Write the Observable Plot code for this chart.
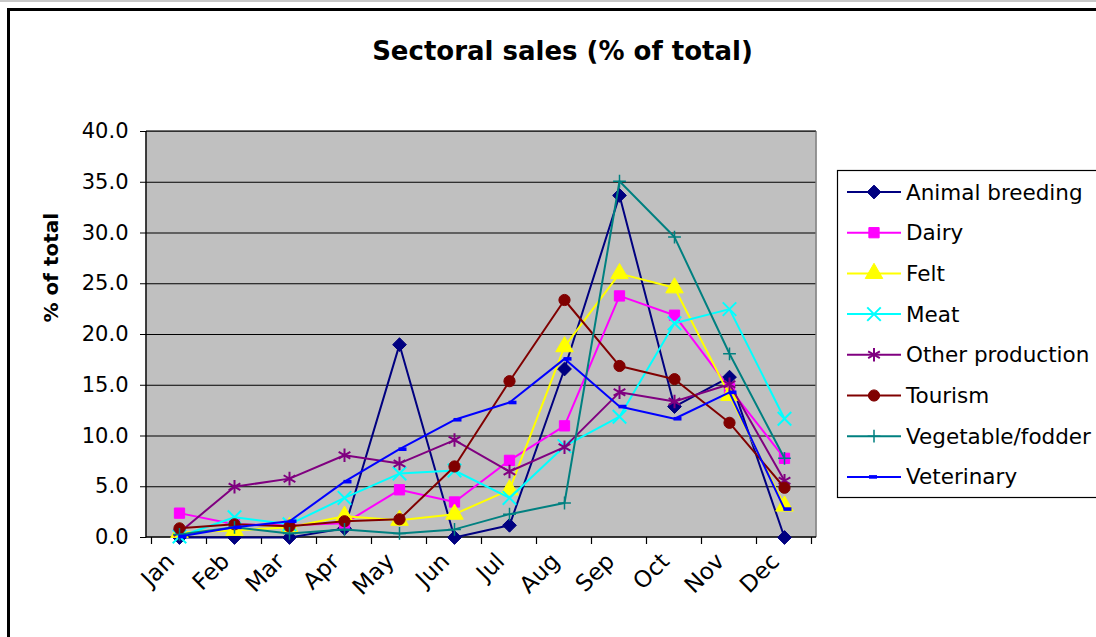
<!DOCTYPE html>
<html><head><meta charset="utf-8">
<script src="https://cdn.jsdelivr.net/npm/d3@7"></script>
<script src="https://cdn.jsdelivr.net/npm/@observablehq/plot@0.6"></script>
<style>
html,body{margin:0;padding:0;background:#fff;}
#wrap{position:relative;width:1096px;height:637px;overflow:hidden;font-family:"DejaVu Sans";}
#topline{position:absolute;left:0;top:0;width:1096px;height:2px;background:#c8c8c8;}
#border{position:absolute;left:7px;top:8px;width:1200px;height:700px;border:3px solid #000;box-sizing:border-box;}
#chart{position:absolute;left:0;top:0;}
#legend{position:absolute;left:0;top:0;}
</style></head>
<body><div id="wrap"><div id="topline"></div><div id="border"></div><div id="chart"></div><svg id="legend" width="1096" height="637"></svg></div>
<script>
// ---- data ----
const months = ["Jan","Feb","Mar","Apr","May","Jun","Jul","Aug","Sep","Oct","Nov","Dec"];
const seriesNames = ["Animal breeding","Dairy","Felt","Meat","Other production","Tourism","Vegetable/fodder","Veterinary"];
const animalBreeding  = [0.0, 0.0, 0.0, 0.9, 19.0, 0.0, 1.2, 16.6, 33.7, 12.9, 15.8, 0.0];
const dairy           = [2.4, 1.3, 1.2, 1.4, 4.7, 3.5, 7.6, 11.0, 23.8, 21.9, 14.7, 7.8];
const felt            = [0.5, 0.7, 1.0, 2.1, 1.7, 2.3, 4.7, 18.8, 26.0, 24.6, 14.0, 3.1];
const meat            = [0.1, 2.0, 1.3, 3.9, 6.3, 6.6, 3.9, 9.0, 11.9, 21.1, 22.5, 11.7];
const otherProduction = [0.5, 5.0, 5.8, 8.1, 7.3, 9.6, 6.5, 8.9, 14.3, 13.4, 15.1, 5.6];
const tourism         = [0.9, 1.3, 1.1, 1.6, 1.8, 7.0, 15.4, 23.4, 16.9, 15.6, 11.3, 4.9];
const vegetableFodder = [0.3, 1.0, 0.4, 0.8, 0.4, 0.8, 2.3, 3.4, 35.1, 29.6, 18.1, 7.8];
const veterinary      = [0.1, 1.0, 1.6, 5.5, 8.7, 11.6, 13.3, 17.6, 12.9, 11.7, 14.3, 2.8];
const yTicks = [0, 5, 10, 15, 20, 25, 30, 35, 40];
const chartTitle = "Sectoral sales (% of total)";
const yTitle = "% of total";

// ---- styles ----
const FONT = "DejaVu Sans";
const dashSymbol = {draw(ctx){ ctx.moveTo(-1,-1.8); ctx.lineTo(7,-1.8); ctx.lineTo(7,1.8); ctx.lineTo(-1,1.8); ctx.closePath(); }};
const styles = [
  {color:"#000080", symbol:"diamond2", r:6.2, filled:true},
  {color:"#FF00FF", symbol:"square",   r:5.8, filled:true},
  {color:"#FFFF00", symbol:"triangle", r:6.5, filled:true},
  {color:"#00FFFF", symbol:"times",    r:6.2, filled:false},
  {color:"#800080", symbol:"asterisk", r:6.4, filled:false},
  {color:"#800000", symbol:"circle",   r:5.6, filled:true},
  {color:"#008080", symbol:"plus",     r:4.2, filled:false, sw:1.5},
  {color:"#0000FF", symbol:dashSymbol, r:4.0, filled:true, sw:0}
];
const seriesValues = [animalBreeding, dairy, felt, meat, otherProduction, tourism, vegetableFodder, veterinary];

const ns = "http://www.w3.org/2000/svg";
function el(tag, attrs, parent){ const e=document.createElementNS(ns,tag); for(const k in attrs) e.setAttribute(k, attrs[k]); if(parent) parent.appendChild(e); return e; }

// render function: axis lines, border, category-boundary ticks
function axisFrame(index, scales, values, dims){
  const g = el("g", {});
  const left = dims.marginLeft, right = dims.width - dims.marginRight;
  const top = dims.marginTop, bottom = dims.height - dims.marginBottom;
  el("line", {x1:right, x2:right, y1:top, y2:bottom, stroke:"#808080", "stroke-width":1.5}, g);
  el("line", {x1:left, x2:right, y1:top, y2:top, stroke:"#404040", "stroke-width":1.5}, g);
  el("line", {x1:left, x2:left, y1:top, y2:bottom+0.5, stroke:"#000", "stroke-width":1.5}, g);
  el("line", {x1:left, x2:right, y1:bottom, y2:bottom, stroke:"#000", "stroke-width":1.5}, g);
  const xs = months.map(m => scales.x(m));
  const step = xs[1] - xs[0];
  const bounds = xs.map(v => v - step/2).concat([xs[xs.length-1] + step/2]);
  for (const b of bounds) el("line", {x1:b, x2:b, y1:bottom, y2:bottom+7, stroke:"#000", "stroke-width":1.2}, g);
  return g;
}

const marks = [
  Plot.frame({fill:"#C0C0C0", stroke:"none"}),
  Plot.ruleY(yTicks.filter(v => v > 0), {stroke:"#000", strokeWidth:1}),
  axisFrame
];
seriesValues.forEach((vals, i) => {
  const st = styles[i];
  const rows = months.map((m, j) => ({month:m, value:vals[j], series:seriesNames[i]}));
  marks.push(Plot.line(rows, {x:"month", y:"value", stroke:st.color, strokeWidth:2}));
  marks.push(Plot.dot(rows, {x:"month", y:"value", symbol:st.symbol, r:st.r,
    fill: st.filled ? st.color : "none", stroke: st.color,
    strokeWidth: st.sw !== undefined ? st.sw : (st.filled ? 1 : 2)}));
});
marks.push(
  Plot.axisY({ticks:yTicks, tickFormat:d => d.toFixed(1), tickSize:6, tickPadding:12, fontSize:21, label:null, stroke:"#000"}),
  Plot.axisX({tickRotate:-45, tickSize:0, tickPadding:20, dx:-9, fontSize:23, label:null}),
  Plot.text([chartTitle], {frameAnchor:"top", lineAnchor:"middle", dx:81, dy:-80, fontSize:26, fontWeight:"bold", fill:"#000"}),
  Plot.text([yTitle], {frameAnchor:"left", lineAnchor:"middle", rotate:-90, dx:-95, dy:-12, fontSize:20, fontWeight:"bold", fill:"#000"})
);

const chart = Plot.plot({
  width:1096, height:637,
  marginLeft:146, marginRight:280, marginTop:131, marginBottom:100,
  x:{type:"point", domain:months, padding:0.5, label:null},
  y:{domain:[0,40], label:null},
  style:{fontFamily:FONT, fontSize:"21px", background:"transparent", color:"#000", overflow:"visible"},
  marks
});
document.getElementById("chart").appendChild(chart);

// ---- legend ----
const lg = document.getElementById("legend");
el("rect", {x:837.5, y:170.5, width:300, height:327, fill:"#fff", stroke:"#000", "stroke-width":1.2}, lg);
const symMap = {diamond2:d3.symbolDiamond2, square:d3.symbolSquare, triangle:d3.symbolTriangle, times:d3.symbolTimes, asterisk:d3.symbolAsterisk, circle:d3.symbolCircle, plus:d3.symbolPlus};
seriesNames.forEach((name, i) => {
  const st = styles[i];
  const y = 192 + i*40.7;
  el("line", {x1:847, x2:901, y1:y, y2:y, stroke:st.color, "stroke-width":2}, lg);
  const type = typeof st.symbol === "string" ? symMap[st.symbol] : st.symbol;
  const d = d3.symbol().type(type).size(Math.PI*st.r*st.r)();
  el("path", {d, transform:`translate(${typeof st.symbol === "string" ? 874 : 870},${y})`,
    fill: st.filled ? st.color : "none", stroke: st.color,
    "stroke-width": st.sw !== undefined ? st.sw : (st.filled ? 1 : 2)}, lg);
  const t = el("text", {x:906, y:y, "dominant-baseline":"central", "font-family":FONT, "font-size":"21.5px", fill:"#000"}, lg);
  t.textContent = name;
});
</script>
</body></html>
